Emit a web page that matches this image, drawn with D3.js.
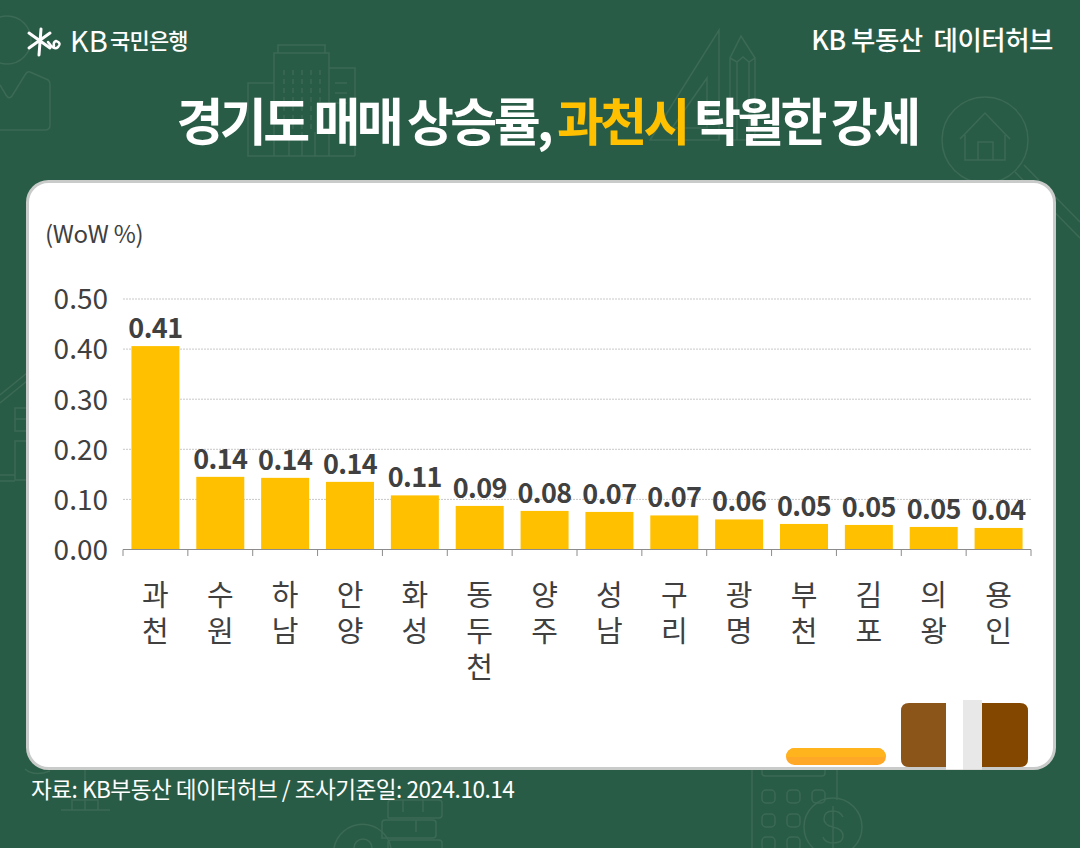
<!DOCTYPE html>
<html>
<head>
<meta charset="utf-8">
<script src="https://cdn.jsdelivr.net/npm/d3@7"></script>
<style>
  html, body { margin: 0; padding: 0; background: #295c46; }
  svg { display: block; }
  text { font-family: "Noto Sans CJK KR", "Noto Sans", sans-serif; }
</style>
</head>
<body>
<div id="graph"></div>
<script>
const w = 1080;
const h = 848;

// data
const cities = ['과천', '수원', '하남', '안양', '화성', '동두천', '양주', '성남', '구리', '광명', '부천', '김포', '의왕', '용인'];
const values = [0.406, 0.145, 0.143, 0.135, 0.108, 0.087, 0.077, 0.075, 0.068, 0.060, 0.051, 0.049, 0.045, 0.043];
const valueLabels = ['0.41', '0.14', '0.14', '0.14', '0.11', '0.09', '0.08', '0.07', '0.07', '0.06', '0.05', '0.05', '0.05', '0.04'];
const yTicks = [0, 0.1, 0.2, 0.3, 0.4, 0.5];

const green = '#295c46';
const iconLine = '#3b6a55';
const textDark = '#404040';
const gold = '#ffc000';

const svg = d3.select('#graph')
              .append('svg')
              .attr('width', w)
              .attr('height', h)
              .attr('viewBox', '0 0 ' + w + ' ' + h);

svg.append('rect').attr('width', w).attr('height', h).attr('fill', green);

// faint icons behind the panel
const icons = svg.append('g')
                 .attr('fill', 'none')
                 .attr('stroke', iconLine)
                 .attr('stroke-width', 1.5);

// person, top left
icons.append('circle').attr('cx', 7).attr('cy', 40).attr('r', 24);
icons.append('path').attr('d', 'M0 130 L45 130 Q50 130 50 125 L50 85 Q50 80 46 79 L30 72 Q27 71 25 75 L12 96 Q9 100 6 95 L0 85');

// buildings
icons.append('path').attr('d', 'M278 53 L278 45 L325 45 L325 53 M274 156 L274 53 L329 53 L329 156 M329 68 L355 68 L355 156 M274 83 L248 83 L248 156 L355 156');
icons.append('path').attr('stroke-dasharray', '5 4').attr('d', 'M284 70 L284 130 M293 70 L293 130 M302 70 L302 130 M311 70 L311 130 M320 70 L320 130');
icons.append('path').attr('d', 'M335 83 L347 83 M335 93 L347 93 M335 103 L347 103 M289 132 L289 156 M302 132 L302 156 M315 132 L315 156');

// ruler and pencil
icons.append('path').attr('d', 'M719 30 L719 140 L650 140 Z M707 78 L707 128 L672 128 Z');
icons.append('path').attr('d', 'M730 140 L730 58 L741 36 L755 58 L755 140 Z M730 58 L737 62 L743 57 L749 62 L755 58 M737 62 L737 140 M749 62 L749 140');

// magnifier with house
icons.append('circle').attr('cx', 985).attr('cy', 140).attr('r', 43);
icons.append('path').attr('d', 'M960 139 L985 113 L1010 139 M965 135 L965 160 L1005 160 L1005 135 M978 160 L978 142 L993 142 L993 160');
icons.append('path').attr('d', 'M1015 172 L1080 238 M1024 165 L1080 222');

// house, left edge
icons.append('path').attr('d', 'M0 395 L27 373 M0 403 L27 381 M15 408 L27 408 L27 431 L15 431 Z M15 419 L27 419 M15 441 L27 441 L27 480 L15 480 Z M0 475 L15 475 M0 481 L15 481');

// calculator and dollar coin, bottom
icons.append('path').attr('d', 'M752 769 L752 848 M837 769 L837 800 M762 769 L762 773 Q762 776 766 776 L822 776 Q825 776 825 773 L825 769');
[790, 814, 837].forEach(y => [762, 787, 812].forEach(x => {
  if (x < 812 || y === 790) icons.append('rect').attr('x', x).attr('y', y).attr('width', 13).attr('height', 13).attr('rx', 4);
}));
icons.append('circle').attr('cx', 833).attr('cy', 827).attr('r', 29);
icons.append('path').attr('d', 'M843 817 Q840 811 833 811 Q824 811 824 819 Q824 825 833 827 Q843 829 843 836 Q843 843 833 843 Q825 843 823 837 M833 806 L833 848');

// coins stack and small stand
icons.append('path').attr('d', 'M388 818 L388 803 Q388 800 391 800 L439 800 Q442 800 442 803 L442 815 Q442 818 439 818 L388 818 M382 838 L382 823 Q382 820 385 820 L433 820 Q436 820 436 823 L436 835 Q436 838 433 838 Z M388 848 L388 843 Q388 840 391 840 L439 840 Q442 840 442 843 L442 848');
icons.append('path').attr('d', 'M403 800 L403 812 M423 800 L423 812 M416 820 L416 832 M334 848 A29 29 0 0 1 391 848 M354 848 A9 9 0 0 1 372 848');
icons.append('path').attr('d', 'M61 810 L110 810 M85 770 L85 810 M72 810 L72 800 L98 800 L98 810 M25 769 Q34 777 50 771');

// white panel
svg.append('rect')
   .attr('x', 27.5).attr('y', 181.5)
   .attr('width', 1027).attr('height', 587)
   .attr('rx', 21)
   .attr('fill', '#fff')
   .attr('stroke', '#c8cbc9')
   .attr('stroke-width', 3);

// logo
const logo = svg.append('g').attr('stroke', '#fff').attr('fill', 'none').attr('stroke-linecap', 'round');
logo.append('path').attr('stroke-width', 3).attr('d', 'M29 33 L50 48 M29 48 L50 33 M41 29 L39 55');
logo.append('path').attr('stroke-width', 2.5).attr('d', 'M48 42 Q54 51 58 47 Q62 43 56 41 Q53 42 54 46');
svg.append('text').attr('x', 70).attr('y', 52).attr('font-size', 29).attr('font-weight', 400).attr('fill', '#fff').text('KB');
svg.append('text').attr('x', 110).attr('y', 49).attr('font-size', 22).attr('font-weight', 500).attr('fill', '#fff')
   .attr('letter-spacing', -0.8).text('국민은행');

svg.append('text').attr('x', 1053).attr('y', 50).attr('text-anchor', 'end')
   .attr('font-size', 26.5).attr('font-weight', 500).attr('fill', '#fff').attr('letter-spacing', -0.5)
   .attr('xml:space', 'preserve').text('KB 부동산  데이터허브');

// title
const title = svg.append('text')
                 .attr('x', 547).attr('y', 141)
                 .attr('text-anchor', 'middle')
                 .attr('font-size', 51)
                 .attr('font-weight', 700)
                 .attr('letter-spacing', -3.6)
                 .attr('word-spacing', -1)
                 .attr('fill', '#fff');
title.append('tspan').text('경기도 매매 상승률, ');
title.append('tspan').attr('fill', gold).text('과천시');
title.append('tspan').text(' 탁월한 강세');

svg.append('text').attr('x', 45).attr('y', 243)
   .attr('font-size', 24).attr('fill', textDark).attr('letter-spacing', -0.3).text('(WoW %)');

// scales
const xScale = d3.scaleBand()
                 .domain(cities)
                 .range([123, 1031])
                 .paddingInner(0.26)
                 .paddingOuter(0.13);

const yScale = d3.scaleLinear()
                 .domain([0, 0.5])
                 .range([549.5, 299]);

// grid
svg.append('g')
   .selectAll('line')
   .data(yTicks.slice(1))
   .enter()
   .append('line')
   .attr('x1', 123).attr('x2', 1031)
   .attr('y1', d => yScale(d)).attr('y2', d => yScale(d))
   .attr('stroke', '#c8c8c8')
   .attr('stroke-width', 1)
   .attr('stroke-dasharray', '2 1');

// y axis
const yAxis = d3.axisLeft(yScale)
                .tickValues(yTicks)
                .tickFormat(d3.format('.2f'))
                .tickSize(0)
                .tickPadding(15);
const yG = svg.append('g').attr('transform', 'translate(123,0)').call(yAxis);
yG.select('.domain').remove();
yG.selectAll('text')
  .attr('font-family', '"Noto Sans CJK KR"')
  .attr('font-size', 28)
  .attr('fill', textDark)
  .attr('dy', '0.35em');

// bars
svg.selectAll('.bar')
   .data(values)
   .enter()
   .append('rect')
   .attr('class', 'bar')
   .attr('x', (d, i) => xScale(cities[i]))
   .attr('y', d => yScale(d))
   .attr('width', xScale.bandwidth())
   .attr('height', d => yScale(0) - yScale(d))
   .attr('fill', gold);

// value labels
svg.selectAll('.value')
   .data(values)
   .enter()
   .append('text')
   .attr('class', 'value')
   .attr('x', (d, i) => xScale(cities[i]) + xScale.bandwidth() / 2)
   .attr('y', d => yScale(d) - 8)
   .attr('text-anchor', 'middle')
   .attr('font-size', 27)
   .attr('font-weight', 700)
   .attr('letter-spacing', -0.6)
   .attr('fill', textDark)
   .text((d, i) => valueLabels[i]);

// x axis, ticks sit on the band edges
const edges = d3.range(cities.length + 1).map(i => 123 + i * xScale.step());
const xAxis = svg.append('g').attr('stroke', '#8c8c8c').attr('stroke-width', 1);
xAxis.append('line').attr('x1', 123).attr('x2', 1031).attr('y1', 549.5).attr('y2', 549.5);
xAxis.selectAll('.tick')
     .data(edges)
     .enter()
     .append('line')
     .attr('class', 'tick')
     .attr('x1', d => d).attr('x2', d => d)
     .attr('y1', 549.5).attr('y2', 556);

// vertical category labels
const catLabels = svg.selectAll('.cat')
                     .data(cities)
                     .enter()
                     .append('text')
                     .attr('class', 'cat')
                     .attr('text-anchor', 'middle')
                     .attr('font-size', 29)
                     .attr('fill', textDark);
catLabels.selectAll('tspan')
         .data(d => d.split('').map(c => ({ c: c, city: d })))
         .enter()
         .append('tspan')
         .attr('x', d => xScale(d.city) + xScale.bandwidth() / 2)
         .attr('y', (d, i) => 606 + i * 36)
         .text(d => d.c);

// leftover shapes at the bottom right of the panel
const deco = svg.append('g');
deco.append('rect').attr('x', 786).attr('y', 748).attr('width', 100).attr('height', 17).attr('rx', 8.5).attr('fill', '#ffa726');
deco.append('path').attr('d', 'M786 757 A8.5 9 0 0 1 794.5 748 L877.5 748 A8.5 9 0 0 1 886 757 Z').attr('fill', '#ffb41e');
deco.append('path').attr('d', 'M946 703 L946 767 L909 767 Q901 767 901 759 L901 711 Q901 703 909 703 Z').attr('fill', '#8b5519');
deco.append('path').attr('d', 'M982 703 L982 767 L1020 767 Q1028 767 1028 759 L1028 711 Q1028 703 1020 703 Z').attr('fill', '#844700');
deco.append('rect').attr('x', 946).attr('y', 700).attr('width', 17).attr('height', 69.5).attr('fill', '#fff');
deco.append('rect').attr('x', 963).attr('y', 700).attr('width', 19).attr('height', 69.5).attr('fill', '#e8e8e8');

// source
svg.append('text').attr('x', 31).attr('y', 798)
   .attr('font-size', 22.6).attr('font-weight', 400).attr('fill', '#fff').attr('letter-spacing', -0.5)
   .text('자료: KB부동산 데이터허브 / 조사기준일: 2024.10.14');
</script>
</body>
</html>
